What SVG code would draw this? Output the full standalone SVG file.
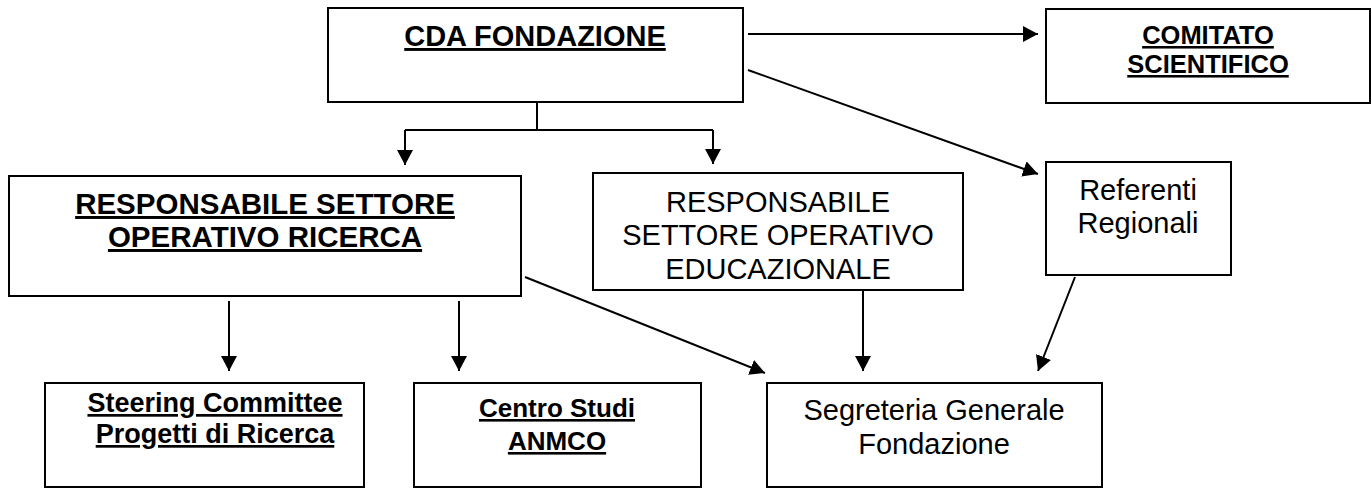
<svg xmlns="http://www.w3.org/2000/svg" width="1372" height="490" viewBox="0 0 1372 490">
  <defs>
    <marker id="arrow" markerUnits="userSpaceOnUse" markerWidth="16" markerHeight="17" refX="15" refY="8" orient="auto">
      <path d="M0,0 L15,8 L0,16 z" fill="#000"/>
    </marker>
    <style>
      .box { fill: #fff; stroke: #000; stroke-width: 2; }
      .conn { fill: none; stroke: #000; stroke-width: 2; }
      .arr { marker-end: url(#arrow); }
      .t { font-family: "Liberation Sans", Arial, sans-serif; fill: #000; text-anchor: middle; }
      .b { font-weight: bold; text-decoration: underline; }
    </style>
  </defs>
  <rect width="1372" height="490" fill="#fff"/>

  <g id="connectors">
    <path class="conn arr" d="M748,34 H1038"/>
    <path class="conn arr" d="M748,70 L1038,174"/>
    <path class="conn" d="M537,102 V130 M405,130 H713"/>
    <path class="conn arr" d="M405,130 V165"/>
    <path class="conn arr" d="M713,130 V164"/>
    <path class="conn arr" d="M229,301 V371"/>
    <path class="conn arr" d="M459,301 V371"/>
    <path class="conn arr" d="M525,277 L765,373"/>
    <path class="conn arr" d="M863,290 V371"/>
    <path class="conn arr" d="M1075,277 L1038,371"/>
  </g>

  <g id="cda">
    <rect class="box" x="328" y="8" width="415" height="94"/>
    <text class="t b" x="535" y="46" font-size="29">CDA FONDAZIONE</text>
  </g>

  <g id="comitato">
    <rect class="box" x="1046" y="9" width="324" height="94"/>
    <text class="t b" x="1208" y="44" font-size="25.5">COMITATO</text>
    <text class="t b" x="1208" y="73" font-size="25.5">SCIENTIFICO</text>
  </g>

  <g id="resp-ricerca">
    <rect class="box" x="9" y="176" width="512" height="120"/>
    <text class="t b" x="265" y="214" font-size="29.5">RESPONSABILE SETTORE</text>
    <text class="t b" x="265" y="247" font-size="29.5">OPERATIVO RICERCA</text>
  </g>

  <g id="resp-educazionale">
    <rect class="box" x="593" y="173" width="370" height="117"/>
    <text class="t" x="778" y="212" font-size="29">RESPONSABILE</text>
    <text class="t" x="778" y="245" font-size="29">SETTORE OPERATIVO</text>
    <text class="t" x="778" y="279" font-size="29">EDUCAZIONALE</text>
  </g>

  <g id="referenti">
    <rect class="box" x="1046" y="162" width="185" height="113"/>
    <text class="t" x="1138" y="200" font-size="29">Referenti</text>
    <text class="t" x="1138" y="233" font-size="29">Regionali</text>
  </g>

  <g id="steering">
    <rect class="box" x="45" y="383" width="319" height="104"/>
    <text class="t b" x="215" y="412" font-size="27">Steering Committee</text>
    <text class="t b" x="215" y="443" font-size="27">Progetti di Ricerca</text>
  </g>

  <g id="centro-studi">
    <rect class="box" x="414" y="383" width="287" height="104"/>
    <text class="t b" x="557" y="417" font-size="26">Centro Studi</text>
    <text class="t b" x="557" y="450" font-size="26">ANMCO</text>
  </g>

  <g id="segreteria">
    <rect class="box" x="767" y="383" width="335" height="104"/>
    <text class="t" x="934" y="420" font-size="29">Segreteria Generale</text>
    <text class="t" x="934" y="454" font-size="29">Fondazione</text>
  </g>
</svg>
